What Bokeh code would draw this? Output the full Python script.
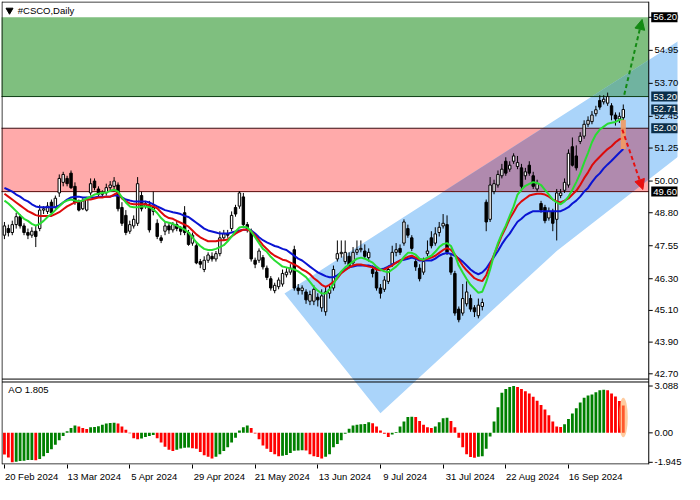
import numpy as np
from bokeh.plotting import figure
from bokeh.models import Range1d, LinearAxis, FixedTicker, Label, Arrow, NormalHead
from bokeh.embed import file_html
from bokeh.resources import INLINE

# ---------------- data ----------------
symbol_title = "#CSCO,Daily"
dates = ["20 Feb 2024", "13 Mar 2024", "5 Apr 2024", "29 Apr 2024", "21 May 2024",
         "13 Jun 2024", "9 Jul 2024", "31 Jul 2024", "22 Aug 2024", "16 Sep 2024"]
date_bars = [0, 16, 32, 48, 64, 80, 96, 112, 128, 144]

open_ = [47.95, 48.20, 48.05, 48.35, 48.65, 48.30, 48.05, 47.95, 48.10, 48.20,
         48.90, 48.85, 49.20, 49.00, 49.55, 49.95, 50.10, 50.30, 49.80, 49.20,
         48.95, 48.90, 49.55, 50.00, 49.70, 49.50, 49.55, 49.75, 49.80, 49.85,
         49.00, 48.70, 48.10, 48.30, 48.40, 49.45, 49.05, 49.10, 48.85, 48.40,
         47.85, 48.10, 48.30, 48.15, 48.35, 48.20, 48.80, 48.05, 47.65, 47.55,
         46.95, 46.65, 47.00, 47.15, 47.05, 47.25, 47.85, 48.00, 48.20, 49.00,
         49.05, 49.40, 48.35, 48.10, 47.00, 47.00, 47.10, 46.70, 46.30, 45.85,
         46.00, 46.10, 46.45, 46.55, 47.40, 45.95, 45.85, 45.80, 45.45, 45.45,
         45.60, 45.20, 45.05, 45.75, 45.95, 47.05, 47.25, 46.95, 47.15, 46.90,
         47.30, 47.40, 47.35, 47.10, 46.65, 46.55, 45.95, 45.90, 46.20, 46.85,
         47.30, 47.45, 47.65, 48.20, 47.85, 46.95, 46.70, 46.55, 47.25, 47.85,
         47.65, 48.05, 48.30, 48.35, 47.10, 46.50, 45.15, 45.00, 45.35, 45.55,
         45.20, 44.90, 45.25, 49.20, 48.55, 49.60, 49.85, 50.20, 50.75, 50.45,
         50.75, 50.55, 50.50, 50.20, 50.60, 50.20, 49.70, 49.15, 49.00, 48.60,
         48.85, 48.55, 49.45, 49.65, 49.85, 51.30, 50.95, 51.50, 51.70, 52.15,
         52.25, 52.55, 53.05, 53.00, 52.95, 52.85, 52.50, 52.35, 52.40]
high = [48.45, 48.35, 48.50, 48.80, 48.75, 48.40, 48.20, 48.25, 48.30, 49.10,
        49.05, 49.20, 49.30, 49.45, 50.25, 50.35, 50.20, 50.40, 49.95, 49.30,
        49.35, 49.40, 50.10, 50.10, 49.80, 49.65, 49.90, 50.00, 50.15, 49.95,
        49.20, 48.90, 48.50, 48.70, 50.15, 49.60, 49.25, 49.25, 49.60, 48.55,
        47.95, 48.45, 48.40, 48.45, 48.50, 48.30, 49.05, 48.15, 48.05, 47.70,
        47.05, 47.15, 47.30, 47.30, 47.35, 48.10, 48.15, 48.15, 48.85, 49.10,
        49.62, 49.55, 48.45, 48.20, 47.10, 47.45, 47.20, 46.80, 46.40, 46.15,
        46.35, 46.65, 46.70, 46.85, 47.55, 46.10, 46.05, 45.90, 45.85, 46.05,
        45.75, 45.90, 46.00, 46.05, 46.80, 47.75, 47.75, 47.75, 47.30, 47.50,
        47.75, 47.75, 47.60, 47.45, 46.80, 46.65, 46.10, 46.40, 46.80, 47.55,
        47.65, 47.60, 48.55, 48.35, 47.95, 47.10, 46.85, 47.10, 47.75, 48.10,
        48.25, 48.45, 48.75, 48.70, 47.25, 46.60, 45.25, 46.10, 46.20, 45.70,
        45.30, 45.55, 45.55, 49.30, 50.15, 50.05, 50.40, 50.65, 50.90, 50.75,
        51.05, 50.95, 50.65, 50.50, 50.75, 50.35, 50.05, 49.25, 49.10, 49.00,
        48.95, 49.70, 49.70, 50.10, 51.20, 51.65, 51.35, 51.85, 52.30, 52.45,
        52.65, 52.85, 53.25, 53.25, 53.35, 52.95, 52.60, 52.60, 52.90]
low = [47.80, 47.90, 47.95, 48.20, 48.20, 47.95, 47.80, 47.85, 47.50, 48.10,
       48.75, 48.75, 48.70, 48.95, 49.40, 49.80, 49.80, 49.70, 49.10, 48.85,
       48.90, 48.85, 49.45, 49.65, 49.40, 49.40, 49.45, 49.65, 49.70, 48.85,
       48.30, 47.95, 48.00, 48.20, 48.30, 48.85, 48.95, 48.05, 48.70, 47.80,
       47.65, 47.95, 48.00, 48.05, 48.10, 47.95, 47.95, 47.55, 47.55, 46.85,
       46.70, 46.55, 46.90, 46.95, 46.95, 47.15, 47.75, 47.85, 48.10, 48.65,
       48.95, 48.25, 48.05, 46.95, 46.70, 46.90, 46.65, 46.25, 45.85, 45.75,
       45.90, 46.00, 46.35, 46.45, 45.85, 45.70, 45.70, 45.35, 45.30, 45.30,
       45.25, 45.05, 44.90, 45.55, 45.85, 46.95, 47.10, 46.85, 46.70, 46.80,
       47.20, 47.30, 47.05, 46.95, 46.35, 45.85, 45.55, 45.80, 46.10, 46.75,
       47.15, 47.20, 47.55, 47.85, 47.35, 46.60, 46.20, 46.45, 47.15, 47.45,
       47.55, 47.90, 48.20, 47.20, 46.45, 44.90, 44.65, 44.90, 45.25, 45.05,
       44.85, 44.80, 45.10, 48.10, 48.45, 49.50, 49.75, 50.10, 50.20, 50.35,
       50.65, 50.45, 49.70, 50.05, 50.20, 49.70, 49.60, 48.80, 48.40, 48.50,
       48.10, 47.75, 49.35, 49.55, 49.75, 50.55, 50.40, 51.40, 51.60, 52.05,
       52.15, 52.45, 52.70, 52.90, 52.85, 52.30, 52.10, 52.20, 52.30]
close = [48.30, 48.05, 48.35, 48.65, 48.30, 48.05, 47.95, 48.10, 47.90, 48.90,
         48.95, 49.05, 48.80, 49.35, 50.10, 50.25, 49.90, 49.75, 49.20, 48.90,
         49.25, 49.30, 49.90, 49.75, 49.50, 49.55, 49.75, 49.85, 50.00, 48.95,
         48.40, 48.05, 48.35, 48.55, 49.90, 48.95, 49.15, 48.15, 49.00, 47.90,
         47.75, 48.30, 48.15, 48.35, 48.20, 48.10, 48.05, 47.60, 47.95, 46.90,
         46.85, 47.00, 47.20, 47.05, 47.25, 47.85, 48.00, 47.95, 48.70, 48.75,
         49.55, 48.35, 48.20, 47.05, 46.85, 47.35, 46.75, 46.35, 45.95, 46.05,
         46.25, 46.50, 46.55, 46.70, 45.95, 45.85, 45.95, 45.50, 45.70, 45.90,
         45.50, 45.65, 45.80, 45.90, 46.65, 47.25, 47.30, 47.30, 46.80, 47.30,
         47.40, 47.45, 47.15, 47.30, 46.50, 45.95, 45.75, 46.25, 46.65, 47.30,
         47.40, 47.30, 48.45, 47.95, 47.45, 46.75, 46.30, 46.95, 47.35, 47.55,
         48.00, 48.25, 48.40, 47.30, 46.55, 45.00, 44.75, 45.55, 45.80, 45.15,
         45.05, 45.30, 45.40, 48.45, 49.85, 49.90, 50.25, 50.45, 50.30, 50.60,
         50.95, 50.70, 49.80, 50.35, 50.30, 49.80, 49.90, 48.90, 48.50, 48.85,
         48.40, 49.55, 49.55, 49.95, 51.05, 50.60, 50.50, 51.70, 52.15, 52.30,
         52.50, 52.70, 52.80, 53.10, 53.20, 52.50, 52.35, 52.45, 52.71]

# Alligator lines (jaw = blue, teeth = red, lips = green)
jaw = [49.74, 49.67, 49.60, 49.49, 49.41, 49.30, 49.23, 49.12, 49.04, 49.01,
       49.01, 49.01, 49.01, 49.01, 49.08, 49.19, 49.30, 49.38, 49.41, 49.41,
       49.38, 49.38, 49.38, 49.38, 49.41, 49.41, 49.41, 49.41, 49.45, 49.45,
       49.38, 49.30, 49.26, 49.23, 49.23, 49.23, 49.23, 49.19, 49.12, 49.04,
       48.97, 48.90, 48.86, 48.82, 48.79, 48.75, 48.68, 48.64, 48.53, 48.42,
       48.31, 48.20, 48.13, 48.09, 48.05, 48.01, 48.01, 48.01, 48.05, 48.09,
       48.13, 48.16, 48.16, 48.13, 48.01, 47.87, 47.76, 47.68, 47.61, 47.54,
       47.50, 47.43, 47.39, 47.28, 47.17, 47.06, 46.99, 46.88, 46.76, 46.65,
       46.54, 46.47, 46.40, 46.36, 46.36, 46.43, 46.54, 46.65, 46.73, 46.76,
       46.80, 46.80, 46.80, 46.80, 46.76, 46.69, 46.65, 46.69, 46.76, 46.84,
       46.91, 46.99, 47.02, 47.06, 47.10, 47.06, 46.99, 46.99, 46.99, 46.99,
       47.06, 47.17, 47.24, 47.28, 47.24, 47.17, 47.06, 46.95, 46.80, 46.65,
       46.54, 46.47, 46.54, 46.69, 46.91, 47.13, 47.35, 47.61, 47.83, 48.01,
       48.24, 48.46, 48.57, 48.71, 48.79, 48.86, 48.86, 48.86, 48.86, 48.86,
       48.86, 48.86, 48.86, 48.93, 49.01, 49.15, 49.26, 49.41, 49.60, 49.74,
       49.96, 50.15, 50.29, 50.48, 50.63, 50.77, 50.92, 51.07, 51.21]
teeth = [49.52, 49.41, 49.30, 49.19, 49.08, 48.97, 48.86, 48.79, 48.71, 48.68,
         48.68, 48.68, 48.68, 48.75, 48.82, 48.93, 49.04, 49.12, 49.19, 49.23,
         49.26, 49.30, 49.30, 49.34, 49.38, 49.38, 49.41, 49.41, 49.49, 49.56,
         49.34, 49.23, 49.15, 49.12, 49.12, 49.12, 49.12, 49.08, 49.04, 48.97,
         48.82, 48.68, 48.60, 48.57, 48.49, 48.42, 48.35, 48.27, 48.13, 47.98,
         47.87, 47.79, 47.72, 47.72, 47.72, 47.76, 47.76, 47.79, 47.90, 48.01,
         48.09, 48.16, 48.16, 48.09, 47.94, 47.76, 47.57, 47.43, 47.28, 47.17,
         47.10, 47.02, 46.99, 46.91, 46.84, 46.76, 46.65, 46.58, 46.47, 46.32,
         46.21, 46.07, 45.99, 46.07, 46.18, 46.32, 46.51, 46.62, 46.73, 46.80,
         46.84, 46.84, 46.80, 46.76, 46.73, 46.65, 46.62, 46.65, 46.73, 46.80,
         46.91, 46.99, 47.06, 47.13, 47.17, 47.10, 47.02, 47.02, 47.06, 47.10,
         47.17, 47.28, 47.39, 47.46, 47.39, 47.21, 47.02, 46.80, 46.62, 46.47,
         46.32, 46.25, 46.21, 46.43, 46.84, 47.21, 47.57, 47.94, 48.24, 48.57,
         48.82, 49.08, 49.23, 49.34, 49.45, 49.49, 49.52, 49.52, 49.49, 49.41,
         49.30, 49.23, 49.19, 49.26, 49.34, 49.49, 49.63, 49.85, 50.11, 50.33,
         50.59, 50.77, 50.92, 51.07, 51.21, 51.32, 51.47, 51.58, 51.62]
lips = [49.26, 49.15, 49.01, 48.86, 48.71, 48.57, 48.49, 48.38, 48.31, 48.38,
        48.49, 48.64, 48.75, 48.90, 49.04, 49.19, 49.26, 49.30, 49.26, 49.23,
        49.26, 49.34, 49.41, 49.49, 49.52, 49.56, 49.56, 49.63, 49.67, 49.60,
        49.38, 49.19, 49.04, 49.01, 49.01, 49.04, 49.04, 49.01, 48.93, 48.79,
        48.60, 48.46, 48.42, 48.38, 48.31, 48.24, 48.16, 48.05, 47.87, 47.68,
        47.54, 47.43, 47.39, 47.39, 47.43, 47.50, 47.57, 47.72, 47.90, 48.09,
        48.24, 48.27, 48.24, 48.09, 47.87, 47.65, 47.43, 47.32, 47.13, 46.99,
        46.88, 46.76, 46.73, 46.69, 46.65, 46.58, 46.47, 46.36, 46.18, 45.99,
        45.85, 45.74, 45.74, 45.88, 46.10, 46.36, 46.58, 46.73, 46.84, 46.95,
        47.06, 47.10, 47.06, 46.99, 46.91, 46.76, 46.65, 46.58, 46.54, 46.65,
        46.76, 46.91, 47.13, 47.28, 47.28, 47.21, 47.06, 47.02, 47.10, 47.17,
        47.32, 47.50, 47.61, 47.65, 47.54, 47.21, 46.80, 46.54, 46.29, 46.07,
        45.92, 45.77, 45.81, 46.18, 46.65, 47.21, 47.65, 48.01, 48.31, 48.68,
        49.04, 49.49, 49.67, 49.82, 49.89, 49.96, 49.93, 49.85, 49.67, 49.49,
        49.30, 49.19, 49.12, 49.23, 49.41, 49.67, 49.96, 50.29, 50.70, 51.07,
        51.47, 51.76, 51.95, 52.06, 52.17, 52.21, 52.24, 52.32, 52.32]

# Awesome Oscillator
ao = [-1.43, -1.62, -1.94, -1.90, -1.86, -1.84, -1.80, -1.79, -1.81, -1.73,
      -1.54, -1.33, -1.08, -0.78, -0.49, -0.21, 0.11, 0.32, 0.49, 0.42,
      0.32, 0.25, 0.36, 0.38, 0.44, 0.53, 0.61, 0.65, 0.66, 0.61,
      0.42, 0.21, -0.02, -0.36, -0.42, -0.38, -0.27, -0.21, -0.15, -0.36,
      -0.63, -0.91, -1.12, -1.20, -1.12, -1.03, -0.99, -0.96, -1.01, -1.05,
      -1.27, -1.48, -1.58, -1.69, -1.58, -1.41, -1.20, -0.95, -0.63, -0.32,
      0.15, 0.36, 0.49, 0.32, -0.04, -0.42, -0.84, -1.05, -1.27, -1.41,
      -1.54, -1.51, -1.46, -1.33, -1.18, -1.16, -1.15, -1.17, -1.41, -1.54,
      -1.60, -1.69, -1.58, -1.41, -0.95, -0.74, -0.49, -0.06, 0.27, 0.49,
      0.53, 0.57, 0.58, 0.70, 0.63, 0.42, 0.15, -0.06, -0.27, -0.11,
      0.06, 0.42, 0.74, 1.05, 1.06, 1.04, 0.78, 0.53, 0.36, 0.32,
      0.42, 0.70, 0.97, 1.00, 0.78, 0.36, -0.32, -0.95, -1.41, -1.60,
      -1.64, -1.58, -1.54, -1.05, -0.25, 0.74, 1.69, 2.64, 2.89, 3.02,
      3.088, 3.02, 2.89, 2.74, 2.59, 2.38, 2.11, 1.84, 1.54, 1.16,
      0.74, 0.42, 0.38, 0.57, 0.91, 1.27, 1.62, 2.00, 2.32, 2.47,
      2.53, 2.68, 2.81, 2.85, 2.81, 2.59, 2.40, 2.10, 1.805]

price_ticks = [56.20, 54.95, 53.70, 52.45, 51.25, 50.00, 48.80, 47.55, 46.30, 45.10, 43.90, 42.70]
ao_ticks = [3.088, 0.0, -1.945]
ao_tick_labels = ["3.088", "0.00", "-1.945"]

green_zone = [53.20, 56.20]
red_zone = [49.60, 52.00]
box_levels = [56.20, 53.20, 52.71, 52.00, 49.60]

# channel drawn on the chart (bar index, price)
channel_x = [71.5, 96.0, 141.0, 179.0, 179.0]
channel_y = [45.74, 41.21, 47.35, 51.73, 55.96]

# forecast arrows (bar index, price)
up_arrow = [158.25, 53.27, 162.8, 56.12]
down_arrow = [157.75, 51.95, 163.0, 49.68]

# ---------------- layout / styles ----------------
FONT = "Liberation Sans"
FS = "9.5px"
W, H = 684, 484
BL, BR = 1, 1
X_LO, X_AXIS = -0.75, 164.5          # chart area ends at the price-scale line
PX = 653 / (X_AXIS - X_LO)           # pixels per bar (approx.)
X_END = X_LO + (W - BL - BR) / PX    # the frame also covers the price-scale area
P_LO, P_HI = 39.265, 56.80
MAIN_BOTTOM, AO_TOP = 42.50, 42.39
AO_PANEL_LO, AO_PANEL_HI = -2.089, 3.354
AO_LO = AO_PANEL_LO
AO_HI = AO_PANEL_LO + (AO_PANEL_HI - AO_PANEL_LO) * (P_HI - P_LO) / (AO_TOP - P_LO)
PY = 0.0378                          # price units per pixel (approx.)

C_GREEN_ZONE = "#7fbf7f"
C_RED_ZONE = "#ffaaaa"
C_CHANNEL = "#aad4fa"
C_RED_OVER = "#b08aae"
C_GREEN_OVER = "#70b3a0"

n = len(close)
idx = np.arange(n)
o = np.array(open_); c = np.array(close)
h = np.array(high); l = np.array(low)

p = figure(width=W, height=H, output_backend="svg", toolbar_location=None,
           x_range=Range1d(X_LO, X_END), y_range=Range1d(P_LO, P_HI),
           x_axis_location=None, y_axis_location=None,
           min_border_left=BL, min_border_top=1, min_border_right=BR, min_border_bottom=0)
p.extra_y_ranges = {"ao": Range1d(AO_LO, AO_HI)}
p.grid.visible = False
p.outline_line_color = None
p.background_fill_color = "white"
p.border_fill_color = "white"

# zones (stop at the price scale)
p.quad(left=[X_LO - 5], right=[X_AXIS], bottom=[red_zone[0]], top=[red_zone[1]],
       fill_color=C_RED_ZONE, line_color=None)
p.quad(left=[X_LO - 5], right=[X_AXIS], bottom=[green_zone[0]], top=[green_zone[1]],
       fill_color=C_GREEN_ZONE, line_color=None)


def clip_half(poly, k, bound, keep_ge):
    """Clip polygon (list of points) to coordinate k >= bound (or <= bound)."""
    inside = (lambda q: q[k] >= bound) if keep_ge else (lambda q: q[k] <= bound)
    out = []
    for i in range(len(poly)):
        cur, prev = poly[i], poly[i - 1]

        def cut(a, b):
            t = (bound - a[k]) / (b[k] - a[k])
            pt = [a[0] + t * (b[0] - a[0]), a[1] + t * (b[1] - a[1])]
            pt[k] = bound
            return tuple(pt)
        if inside(cur):
            if not inside(prev):
                out.append(cut(prev, cur))
            out.append(cur)
        elif inside(prev):
            out.append(cut(prev, cur))
    return out


channel = list(zip(channel_x, channel_y))
p.patch(channel_x, channel_y, fill_color=C_CHANNEL, line_color=None)
for zone, col in [(red_zone, C_RED_OVER), (green_zone, C_GREEN_OVER)]:
    part = clip_half(clip_half(channel, 1, zone[0], True), 1, zone[1], False)
    part = clip_half(part, 0, X_AXIS, False) if part else part
    if part:
        p.patch([q[0] for q in part], [q[1] for q in part], fill_color=col, line_color=None)

# level lines
for lvl, col in [(green_zone[0], "#0d3d14"), (red_zone[1], "#3a0d12"), (red_zone[0], "#5a0808")]:
    p.segment(x0=[X_LO - 5], x1=[X_AXIS], y0=[lvl], y1=[lvl], line_color=col, line_width=1)

# candles
up = c >= o
p.segment(x0=idx, y0=h, x1=idx, y1=l, line_color="black", line_width=1)
p.vbar(x=idx[up], bottom=o[up], top=c[up], width=0.62, fill_color="white",
       line_color="black", line_width=1)
p.vbar(x=idx[~up], bottom=c[~up], top=o[~up], width=0.62, fill_color="black",
       line_color="black", line_width=1)

# alligator
p.line(idx, jaw, line_color="#0a14d2", line_width=2)
p.line(idx, teeth, line_color="#dc0a0a", line_width=2)
p.line(idx, lips, line_color="#28dc32", line_width=2)
p.vbar(x=[n - 1], bottom=[jaw[-1]], top=[lips[-1]], width=1.3,
       fill_color="#f29a62", fill_alpha=0.9, line_color=None)

# AO histogram
ao_colors = ["#ff0000"] + ["#008000" if ao[i] > ao[i - 1] else "#ff0000" for i in range(1, n)]
p.vbar(x=idx, bottom=0, top=ao, width=0.72, fill_color=ao_colors, line_color=None,
       y_range_name="ao")
p.ellipse(x=[n - 1], y=[ao[-1] / 2 + 0.11], width=2.3, height=[ao[-1] + 0.8],
          fill_color="#ffa050", fill_alpha=0.55, line_color=None, y_range_name="ao")

# panel borders: top, bottom, separators, left edge and the price-scale line
x_left = X_LO + 0.5 / PX
for yy in (P_HI - 0.5 * PY, MAIN_BOTTOM, AO_TOP, P_LO + 0.5 * PY):
    p.segment(x0=[x_left], x1=[X_AXIS], y0=[yy], y1=[yy], line_color="black", line_width=1)
p.segment(x0=[x_left, X_AXIS], x1=[x_left, X_AXIS], y0=[P_LO, P_LO], y1=[P_HI, P_HI],
          line_color="black", line_width=1)

# title and indicator label
p.scatter([1.3], [56.47], marker="inverted_triangle", size=7, color="black")
p.add_layout(Label(x=3.4, y=56.47, text=symbol_title, text_font=FONT, text_font_size=FS,
                   text_baseline="middle", text_color="black"))
p.add_layout(Label(x=1.0, y=2.85, y_range_name="ao", text=f"AO {ao[-1]:.3f}", text_font=FONT,
                   text_font_size=FS, text_baseline="middle", text_color="black"))

# arrows
for (xs, ys, xe, ye), col in [(up_arrow, "#138a13"), (down_arrow, "#e81010")]:
    p.add_layout(Arrow(x_start=xs, y_start=ys, x_end=xe, y_end=ye, line_color=col,
                       line_width=2, line_dash="4 3",
                       end=NormalHead(size=10, fill_color=col, line_color=col, line_width=1)))


# right price axis (AO ticks mapped into the same axis); labels sit next to the price-scale line
def ao_to_price(v):
    return P_LO + (v - AO_LO) / (AO_HI - AO_LO) * (P_HI - P_LO)


ticks = list(price_ticks)
overrides = {t: f"{t:.2f}" for t in price_ticks}
for v, s in zip(ao_ticks, ao_tick_labels):
    tp = round(ao_to_price(v), 6)
    ticks.append(tp)
    overrides[tp] = s
frame_right = W - BR
label_left = BL + 653 + 4 + 2
yaxis = LinearAxis(ticker=FixedTicker(ticks=ticks), major_label_overrides=overrides,
                   major_tick_out=0, major_tick_in=0, minor_tick_out=0, minor_tick_in=0,
                   major_label_standoff=label_left - frame_right, axis_line_color=None,
                   major_label_text_font=FONT, major_label_text_font_size=FS,
                   major_label_text_color="black")
p.add_layout(yaxis, "right")
# tick marks of the price scale
p.segment(x0=[X_AXIS] * len(ticks), x1=[X_AXIS + 4 / PX] * len(ticks), y0=ticks, y1=ticks,
          line_color="black", line_width=1)

# bottom date axis: labels start just right of the tick mark
centers = [round(b + (1 + len(s) * 2.4) / PX, 4) for b, s in zip(date_bars, dates)]
xaxis = LinearAxis(ticker=FixedTicker(ticks=centers, minor_ticks=date_bars),
                   major_label_overrides={cc: s for cc, s in zip(centers, dates)},
                   major_tick_out=0, major_tick_in=0, minor_tick_out=4, minor_tick_in=0,
                   major_label_standoff=2, axis_line_color=None,
                   minor_tick_line_color="black",
                   major_label_text_font=FONT, major_label_text_font_size=FS,
                   major_label_text_color="black")
p.add_layout(xaxis, "below")

# price boxes on the scale
box_colors = ["#000000", "#0c2f4a", "#0c2f4a", "#0c2f4a", "#000000"]
for v, bg in zip(box_levels, box_colors):
    p.add_layout(Label(x=X_AXIS + 2.5 / PX, y=v, text=f"{v:.2f}", text_color="white",
                       text_font=FONT, text_font_size=FS, text_baseline="middle",
                       text_align="left", background_fill_color=bg, padding=2))

open("out.html", "w").write(file_html(p, INLINE))
